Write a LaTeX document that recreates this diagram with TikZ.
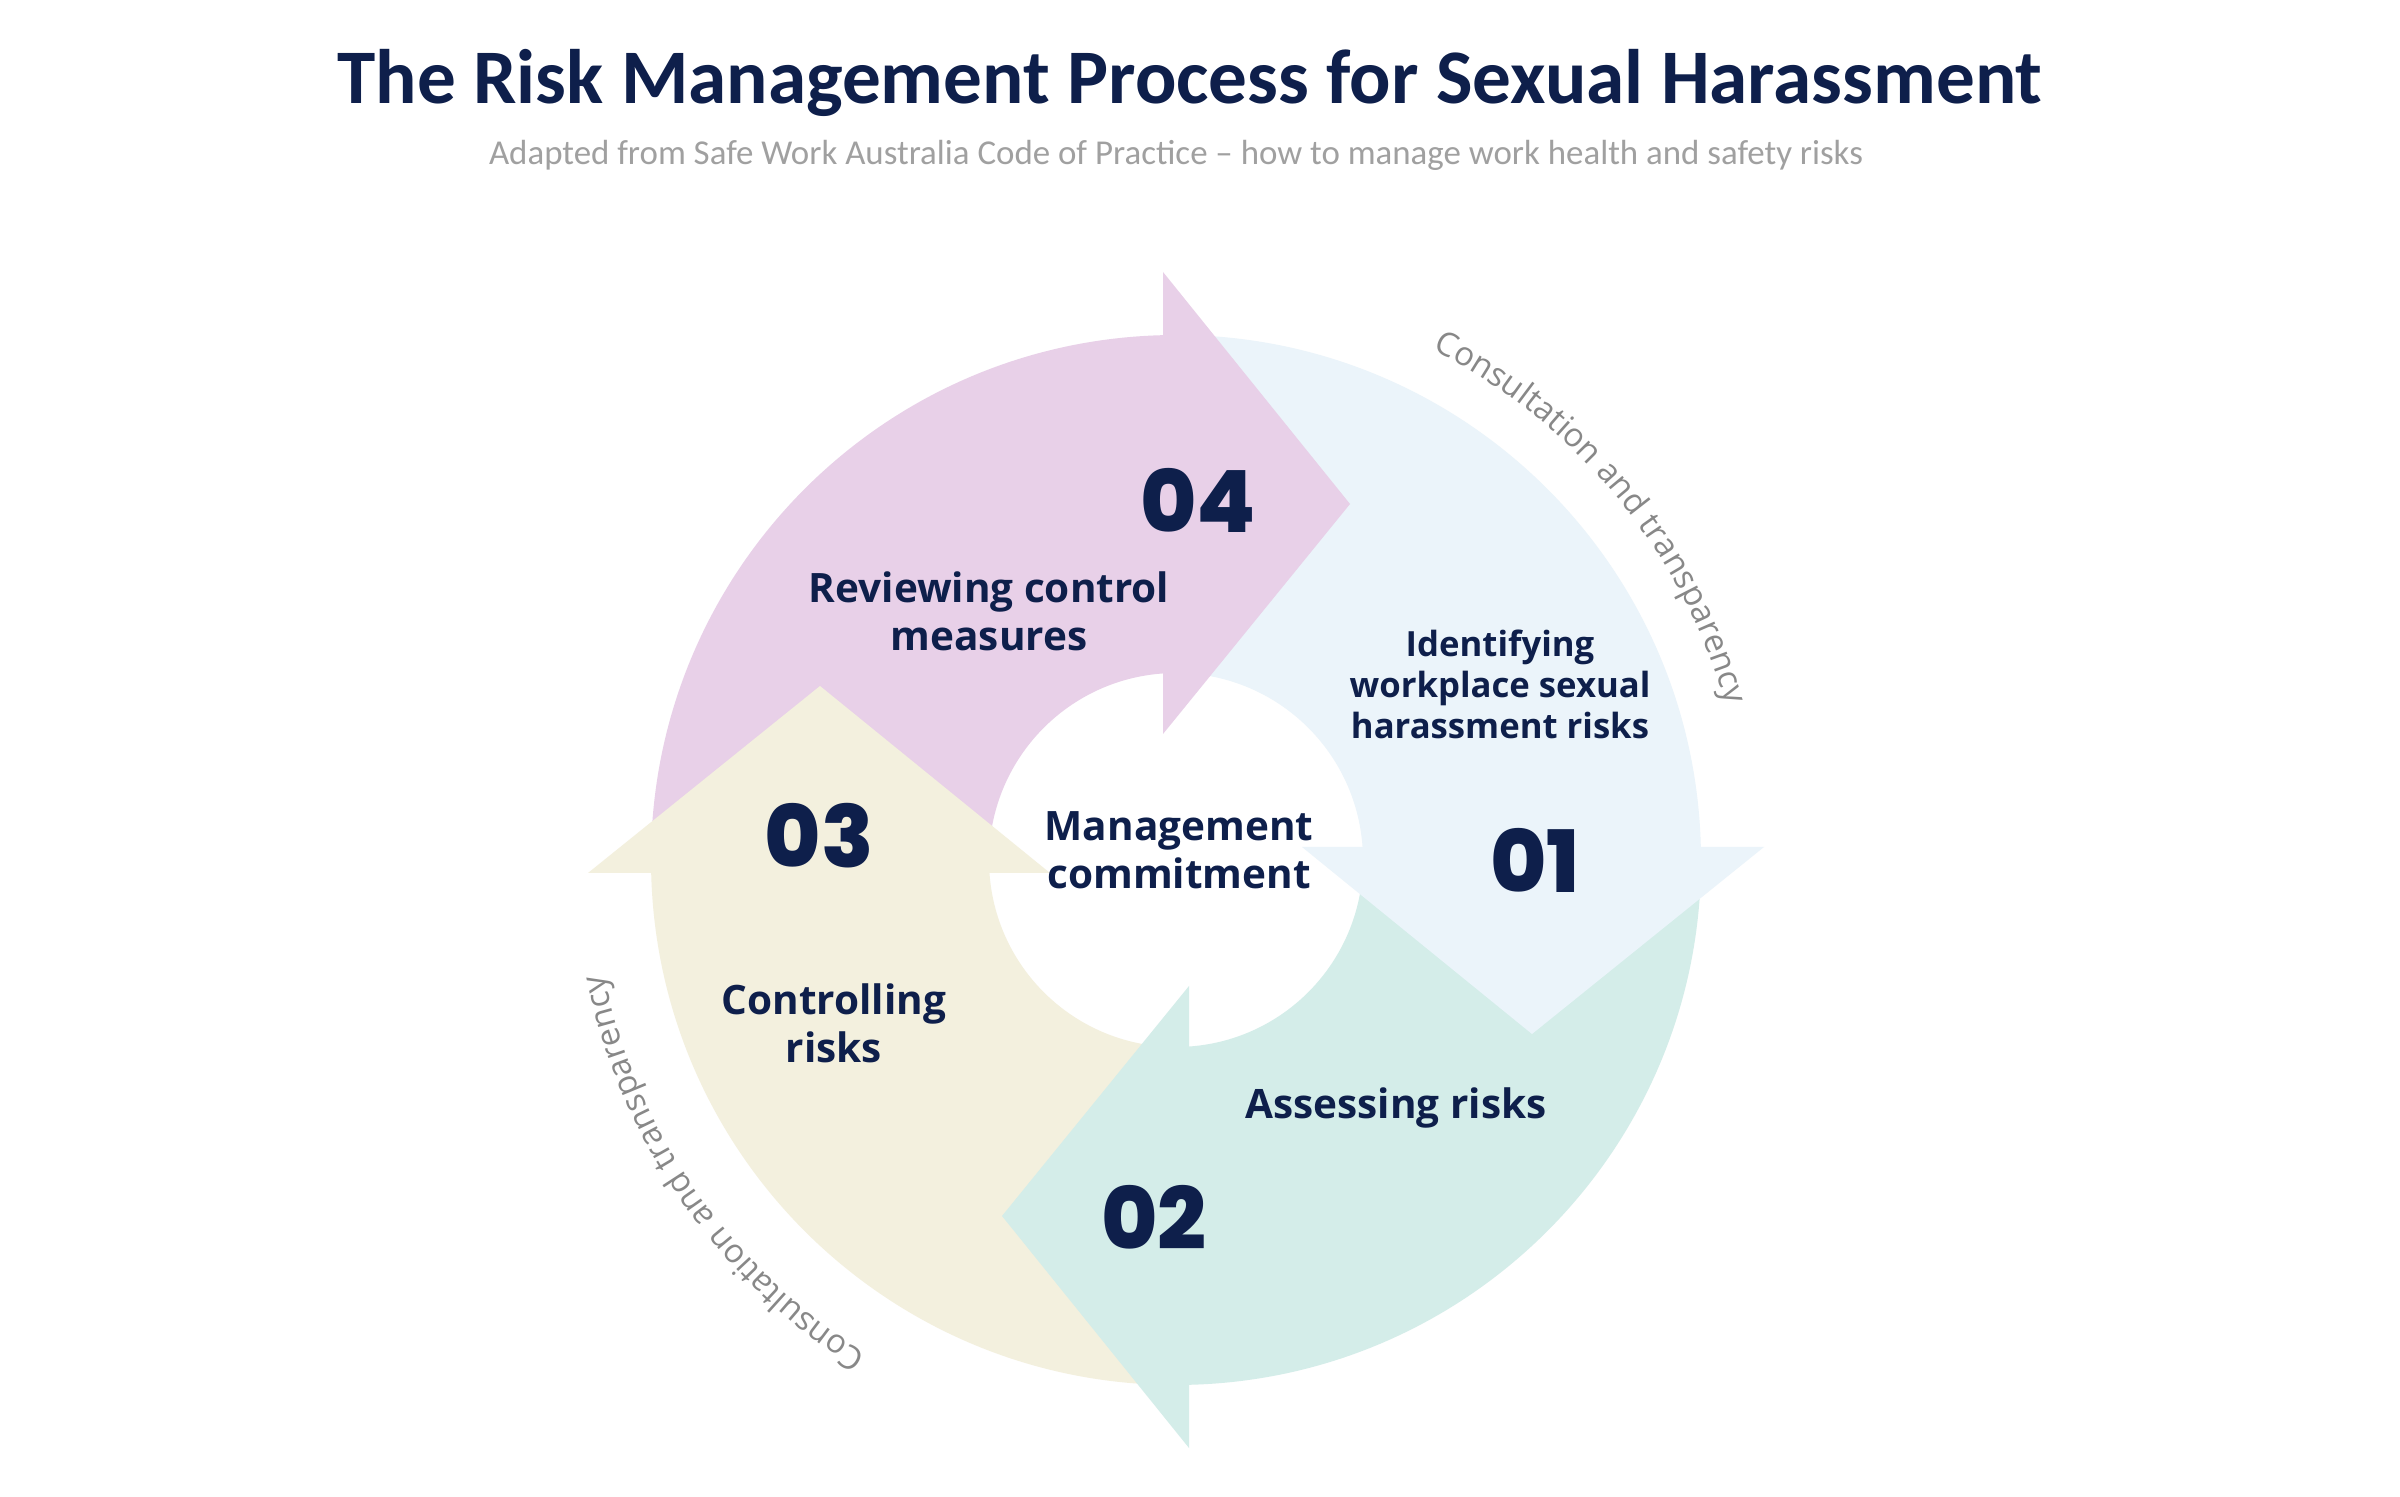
\documentclass[tikz,border=0pt]{standalone}
\usepackage{fontspec}
\usetikzlibrary{decorations.text}
\setmainfont{Open Sans}
\newfontfamily\carlito{Carlito}
\newfontfamily\osans{Open Sans}
\IfFontExistsTF{Poppins ExtraBold}
  {\newfontfamily\popnum{Poppins ExtraBold}}
  {\newfontfamily\popnum{Poppins}[UprightFont=* Bold]}
\definecolor{navy}{HTML}{0E1F4B}
\definecolor{pinkA}{HTML}{E8D0E8}
\definecolor{blueA}{HTML}{EBF4FA}
\definecolor{tealA}{HTML}{D4EDE9}
\definecolor{creamA}{HTML}{F3F0DE}
\definecolor{subgray}{HTML}{A0A0A0}
\definecolor{ctgray}{HTML}{888888}
\newcommand{\ringbody}[2]{%
  \begin{scope}[shift={(1176,636)}, rotate=#1]
    \fill[#2] (180:525) arc[start angle=180, end angle=91.42, radius=525]
      -- (93.99:187) arc[start angle=93.99, end angle=180, radius=187] -- cycle;
  \end{scope}}
\newcommand{\ringhead}[2]{%
  \begin{scope}[shift={(1176,636)}, rotate=#1]
    \fill[#2] (-13,126) -- (-13,588) -- (174,356) -- cycle;
  \end{scope}}
\tikzset{
  lbl/.style={font=\osans\bfseries\fontsize{40.5}{48}\selectfont, text=navy, align=center, inner sep=0pt},
  lblsmall/.style={font=\osans\bfseries\fontsize{34.7}{41}\selectfont, text=navy, align=center, inner sep=0pt},
  num/.style={font=\popnum\fontsize{86}{86}\selectfont, text=navy, inner sep=0pt},
}
\begin{document}
\begin{tikzpicture}[x=1pt,y=1pt]
  \fill[white] (0,0) rectangle (2400,1496);
  \useasboundingbox (0,0) rectangle (2400,1496);
  % bodies
  \ringbody{0}{pinkA}
  \ringbody{-90}{blueA}
  \ringbody{-180}{tealA}
  \ringbody{90}{creamA}
  % heads
  \ringhead{0}{pinkA}
  \ringhead{-90}{blueA}
  \ringhead{-180}{tealA}
  \ringhead{90}{creamA}
  % title
  \node[anchor=base, inner sep=0pt, text=navy, font=\carlito\bfseries\fontsize{77.2}{77.2}\selectfont] (title) at (1190,1392) {The Risk Management Process for Sexual Harassment};
  \node[anchor=base, inner sep=0pt, text=subgray, font=\carlito\fontsize{34.9}{34.9}\selectfont] (sub) at (1176,1331) {Adapted from Safe Work Australia Code of Practice – how to manage work health and safety risks};
  % labels
  \node[lbl] (review) at (989,884.5) {Reviewing control\\measures};
  \node[lblsmall] (ident) at (1500,812) {Identifying\\workplace sexual\\harassment risks};
  \node[lbl] (assess) at (1396,388) {Assessing risks};
  \node[lbl] (control) at (834,472.5) {Controlling\\risks};
  \node[lbl] (mgmt) at (1179,645.5) {Management\\commitment};
  % numbers
  \node[num] (n4) at (1198,996) {04};
  \node[num] (n1) at (1535,636) {01};
  \node[num] (n2) at (1154,279) {02};
  \node[num] (n3) at (819,660) {03};
  % curved texts
  \begin{scope}[shift={(1176,636)}]
    \path[decorate, decoration={text along path, text align=center,
      text={|\osans\fontsize{33}{33}\selectfont\color{ctgray}|Consultation and transparency}}]
      (79.5:571) arc[start angle=79.5, end angle=-0.5, radius=571];
    \path[decorate, decoration={text along path, text align=center,
      text={|\osans\fontsize{33}{33}\selectfont\color{ctgray}|Consultation and transparency}}]
      (-105.35:583) arc[start angle=-105.35, end angle=-185.35, radius=583];
  \end{scope}
\end{tikzpicture}
\end{document}
